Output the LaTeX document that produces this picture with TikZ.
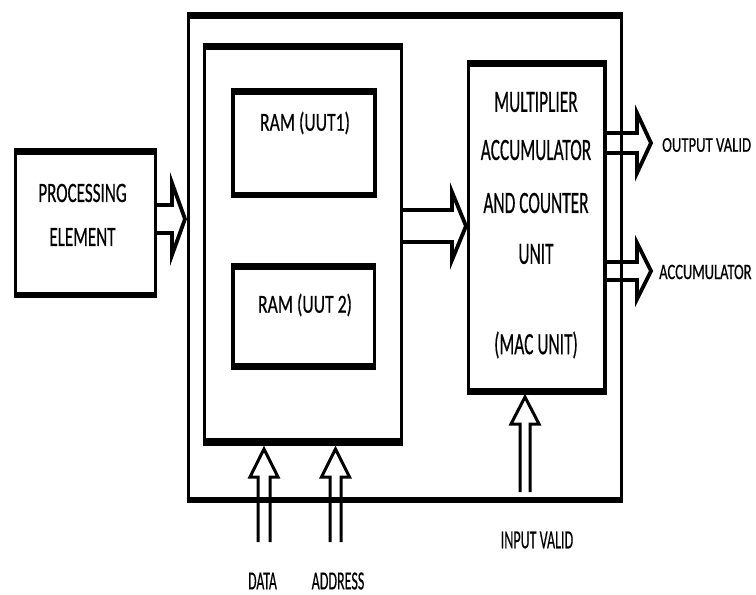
\documentclass[tikz,border=0pt]{standalone}
\usepackage{fontspec}
\usepackage{graphicx}
\setmainfont[UprightFeatures={FakeBold=0.6}]{Carlito}
\usetikzlibrary{calc}
\tikzset{
 box/.style={draw, line width=3.2pt, inner sep=0pt, outer sep=0pt},
 arrline/.style={line width=3pt, line join=miter},
 harrline/.style={line width=3.8pt, line join=miter},
 lbl/.style={inner sep=0pt, font=\fontsize{#1}{#1}\selectfont},
}
\newcommand\hs[2]{\scalebox{#1}[1]{#2}}
\newcommand\thickedges[3]{%
 \draw[line width=#2] ([xshift=-1.6pt]#1.north west) -- ([xshift=1.6pt]#1.north east);
 \draw[line width=#3] ([xshift=-1.6pt]#1.south west) -- ([xshift=1.6pt]#1.south east);}
\newcommand\rarrow[5]{\draw[harrline] let \p1=(#1), \p2=(#2) in
 (\x1,\y2+#3) -- (\x2-#5,\y2+#3) -- (\x2-#5,\y2+#4) -- (\x2,\y2) -- (\x2-#5,\y2-#4) -- (\x2-#5,\y2-#3) -- (\x1,\y2-#3);}
\newcommand\uarrow[5]{\draw[arrline] let \p1=(#1), \p2=(#2) in
 (\x2-#3,\y1) -- (\x2-#3,\y2-#5) -- (\x2-#4,\y2-#5) -- (\x2,\y2) -- (\x2+#4,\y2-#5) -- (\x2+#3,\y2-#5) -- (\x2+#3,\y1);}
\begin{document}
\begin{tikzpicture}[x=1pt,y=-1pt]
\useasboundingbox[fill=white] (0,0) rectangle (756,595);
% boxes
\node[box, minimum width=433pt, minimum height=484.5pt] (outer) at (405,257.75) {};
\node[box, minimum width=197pt, minimum height=395.5pt] (inner) at (303,244.25) {};
\node[box, minimum width=142pt, minimum height=103.5pt] (ram1) at (304,143.25) {};
\node[box, minimum width=141.5pt, minimum height=100pt] (ram2) at (303.75,316.5) {};
\node[box, minimum width=136.5pt, minimum height=328pt] (mac) at (536.75,227.5) {};
\node[box, minimum width=140pt, minimum height=144pt] (pe) at (85.5,223) {};
\thickedges{outer}{7pt}{6pt}
\thickedges{inner}{7pt}{7.5pt}
\thickedges{ram1}{7pt}{6.5pt}
\thickedges{ram2}{7pt}{7pt}
\thickedges{mac}{7pt}{7pt}
\thickedges{pe}{7pt}{6pt}
% labels in boxes
\node[lbl=28] (petxt1) at (82.5,193) {\hs{0.61}{PROCESSING}};
\node[lbl=28] (petxt2) at (82.5,237) {\hs{0.61}{ELEMENT}};
\node[lbl=26] (ram1txt) at (305,123) {\hs{0.68}{RAM (UUT1)}};
\node[lbl=26] (ram2txt) at (305,305) {\hs{0.68}{RAM (UUT 2)}};
\node[lbl=31] (mact1) at (536,102) {\hs{0.56}{MULTIPLIER}};
\node[lbl=31] (mact2) at (536,150) {\hs{0.56}{ACCUMULATOR}};
\node[lbl=31] (mact3) at (536,203) {\hs{0.56}{AND COUNTER}};
\node[lbl=31] (mact4) at (536,254) {\hs{0.56}{UNIT}};
\node[lbl=31] (mact5) at (536,345) {\hs{0.56}{(MAC UNIT)}};
% outside labels
\node[lbl=21, anchor=west] (ovtxt) at (662,145) {\hs{0.7}{OUTPUT VALID}};
\node[lbl=22, anchor=west] (actxt) at (659,272) {\hs{0.66}{ACCUMULATOR}};
\node[lbl=26] (ivtxt) at (537,540) {\hs{0.54}{INPUT VALID}};
\node[lbl=26] (datatxt) at (262.5,581) {\hs{0.53}{DATA}};
\node[lbl=26] (addrtxt) at (338,581) {\hs{0.54}{ADDRESS}};
% arrows
\coordinate (peTip) at (185,219);
\coordinate (macIn) at (466,226);
\coordinate (ovTip) at (651,143);
\coordinate (acTip) at (651,271);
\rarrow{pe.east}{peTip}{14pt}{36pt}{13pt}
\rarrow{inner.east}{macIn}{16pt}{34pt}{14pt}
\rarrow{mac.east}{ovTip}{10pt}{30pt}{14pt}
\rarrow{mac.east}{acTip}{9pt}{28pt}{14pt}
\coordinate (dataTail) at (264,542);
\coordinate (dataTip) at (264,449);
\coordinate (addrTail) at (335.5,542);
\coordinate (addrTip) at (335.5,449);
\coordinate (ivTail) at (525,492);
\coordinate (ivTip) at (525,397);
\uarrow{dataTail}{dataTip}{6pt}{14pt}{28pt}
\uarrow{addrTail}{addrTip}{5.5pt}{14pt}{28pt}
\uarrow{ivTail}{ivTip}{5pt}{14pt}{27pt}
\end{tikzpicture}
\end{document}
